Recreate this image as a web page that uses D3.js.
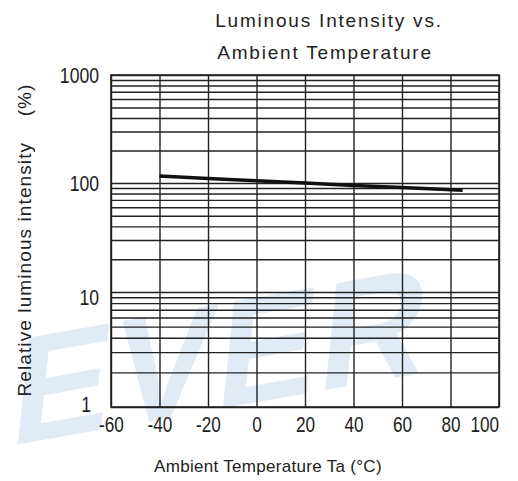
<!DOCTYPE html>
<html>
<head>
<meta charset="utf-8">
<script src="https://cdn.jsdelivr.net/npm/d3@7"></script>
<style>
  body { margin: 0; background: #fff; }
  svg text { font-family: "Liberation Sans", Arial, sans-serif; fill: #222; }
</style>
</head>
<body>
<div id="chart"></div>
<script>
// curve
const temps = [-40, -20, 0, 20, 40, 60, 85]
const intensity = [116, 110, 105, 100, 95, 91, 86]

const xTicks = [-60, -40, -20, 0, 20, 40, 60, 80, 100]
const yTicks = [1, 10, 100, 1000]

const W = 518, H = 481
const plotL = 111, plotR = 499, plotT = 75, plotB = 407

const svg = d3.select("#chart").append("svg")
    .attr("width", W)
    .attr("height", H)

// faint logo watermark behind the grid
svg.append("text")
    .attr("transform", "translate(8,446) rotate(-10) skewX(-16)")
    .style("font-size", "150px")
    .style("font-weight", "bold")
    .style("fill", "#e0ebf6")
    .style("letter-spacing", "4px")
    .text("EVER")

const x = d3.scaleLinear().domain([-60, 100]).range([plotL, plotR])
// the printed decades are not quite equal, so map each one
const y = d3.scaleLog().domain([1, 10, 100, 1000]).range([plotB, 292, 183, plotT])

// horizontal log grid
svg.append("g")
    .attr("transform", `translate(${plotL},0)`)
    .call(d3.axisLeft(y).tickSize(-(plotR - plotL)).tickFormat(""))
    .call(g => g.select(".domain").remove())
    .selectAll("line")
    .attr("stroke", "#222")
    .attr("stroke-width", 1.4)

// vertical grid
svg.append("g")
    .attr("transform", `translate(0,${plotB})`)
    .call(d3.axisBottom(x).tickValues(xTicks).tickSize(-(plotB - plotT)).tickFormat(""))
    .call(g => g.select(".domain").remove())
    .selectAll("line")
    .attr("stroke", "#222")
    .attr("stroke-width", 1.4)

svg.append("rect")
    .attr("x", plotL).attr("y", plotT)
    .attr("width", plotR - plotL).attr("height", plotB - plotT)
    .attr("fill", "none")
    .attr("stroke", "#222")
    .attr("stroke-width", 1.6)

// tick labels, narrow like the printed sheet
const xAxis = svg.append("g")
    .attr("transform", `translate(0,${plotB})`)
    .call(d3.axisBottom(x).tickValues(xTicks).tickFormat(d => String(d)).tickSize(0).tickPadding(9))
xAxis.select(".domain").remove()
xAxis.selectAll("text")
    .style("font-size", "22px")
    .attr("dy", "0.71em")
    .attr("transform", "scale(0.78,1)")
    .attr("x", d => d === 100 ? -19 : 0)

const yAxis = svg.append("g")
    .attr("transform", `translate(${plotL},0)`)
    .call(d3.axisLeft(y).tickValues(yTicks).tickFormat(d3.format("d")).tickSize(0).tickPadding(15))
yAxis.select(".domain").remove()
yAxis.selectAll("text")
    .style("font-size", "22px")
    .attr("transform", "scale(0.8,1)")
    .attr("dy", d => d === 10 ? "0.55em" : d === 1 ? "0.2em" : "0.32em")
    .attr("x", d => d === 1 ? -25 : -15)

// the curve
const line = d3.line()
    .x((d, i) => x(temps[i]))
    .y(d => y(d))

svg.append("path")
    .datum(intensity)
    .attr("d", line)
    .attr("fill", "none")
    .attr("stroke", "#111")
    .attr("stroke-width", 3.5)

// titles
svg.append("text")
    .attr("x", 329).attr("y", 27)
    .attr("text-anchor", "middle")
    .style("font-size", "19px")
    .style("letter-spacing", "1.8px")
    .text("Luminous Intensity vs.")

svg.append("text")
    .attr("x", 325).attr("y", 59)
    .attr("text-anchor", "middle")
    .style("font-size", "19px")
    .style("letter-spacing", "1.8px")
    .text("Ambient Temperature")

svg.append("text")
    .attr("x", 268).attr("y", 472)
    .attr("text-anchor", "middle")
    .style("font-size", "17px")
    .style("letter-spacing", "0.3px")
    .text("Ambient Temperature Ta (°C)")

svg.append("text")
    .attr("transform", "translate(31,240) rotate(-90)")
    .attr("text-anchor", "middle")
    .style("font-size", "19px")
    .style("letter-spacing", "1.1px")
    .text("Relative luminous intensity \u00a0\u00a0 (%)")
</script>
</body>
</html>
